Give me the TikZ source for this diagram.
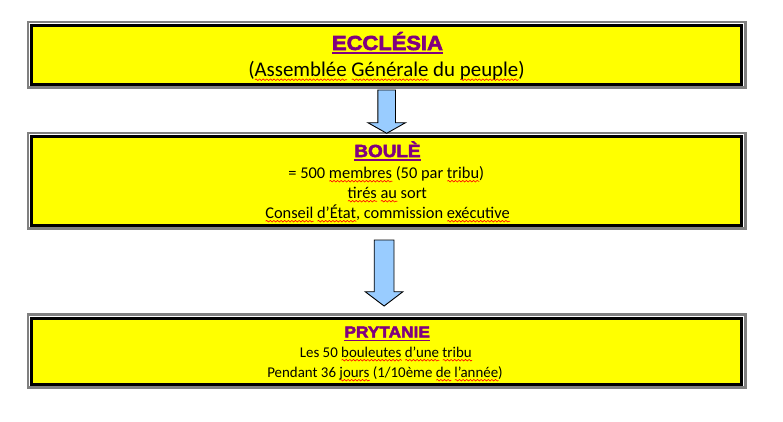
\documentclass[tikz,border=0pt]{standalone}
\usepackage{fontspec}
\setmainfont{Carlito}
\newfontfamily\titlefont[FakeStretch=1.08,FakeBold=3]{Liberation Sans Bold}
\usetikzlibrary{calc,decorations.pathmorphing}
\definecolor{ttl}{RGB}{128,0,128}
\definecolor{arrowblue}{RGB}{153,204,255}
\definecolor{frame}{RGB}{128,128,128}
\definecolor{boxyellow}{RGB}{255,255,0}
\newsavebox\sqbox
\newcommand\sq[1]{\sbox\sqbox{#1}\rlap{\tikz[baseline=0pt,x=1pt,y=1pt]\draw[red,line width=0.6pt,decorate,decoration={snake,amplitude=0.8pt,segment length=3.6pt}] (0,-3.2) -- (\the\wd\sqbox,-3.2);}\usebox\sqbox}
\newcommand\ttlu[1]{\sbox\sqbox{#1}\rlap{\rule[-3.8pt]{\wd\sqbox}{1.8pt}}\usebox\sqbox}
\tikzset{
  box/.style={draw=black, line width=3pt, fill=boxyellow, minimum width=710pt, outer sep=0pt, inner sep=0pt},
  outerframe/.style={draw=frame, line width=2.6pt},
  barrow/.style={draw=black, line width=0.9pt, fill=arrowblue, line join=miter},
  ttltext/.style={anchor=base, text=ttl},
  bodytext/.style={anchor=base, text=black}
}
\begin{document}
\begin{tikzpicture}[x=1pt, y=-1pt]
\useasboundingbox (0,0) rectangle (783,421);
% boxes
\node[box, minimum height=58.3pt] (ecc) at (386.7,54.85) {};
\node[box, minimum height=88.3pt] (boule) at (386.7,180.85) {};
\node[box, minimum height=66pt] (pryt) at (386.7,351) {};
\foreach \b in {ecc,boule,pryt}{
  \draw[outerframe] ([xshift=-3.7pt,yshift=3.7pt]\b.north west) rectangle ([xshift=3.7pt,yshift=-3.7pt]\b.south east);
}
% arrows
\draw[barrow] ($(ecc.south)+(-8.8,6)$) -- ($(ecc.south)+(8.8,6)$)
  -- ($(boule.north)+(8.8,-14)$) -- ($(boule.north)+(18.8,-14)$)
  -- ($(boule.north)+(0,-3.4)$)
  -- ($(boule.north)+(-18.8,-14)$) -- ($(boule.north)+(-8.8,-14)$) -- cycle;
\draw[barrow] ($(boule.south)+(-12.5,15)$) -- ($(boule.south)+(7.3,15)$)
  -- ($(pryt.north)+(7.3,-26.3)$) -- ($(pryt.north)+(16.2,-26.3)$)
  -- ($(pryt.north)+(-2.6,-12)$)
  -- ($(pryt.north)+(-21.5,-26.3)$) -- ($(pryt.north)+(-12.5,-26.3)$) -- cycle;
% texts
\node[ttltext, font=\titlefont\fontsize{20.3}{24}\selectfont] (t1) at (387.5,50) {\ttlu{ECCLÉSIA}};
\node[bodytext, font=\fontsize{20.9}{24}\selectfont] (t2) at (386.5,76.5) {(\sq{Assemblée} \sq{Générale} du \sq{peuple})};
\node[ttltext, font=\titlefont\fontsize{17.5}{21}\selectfont] (t3) at (387.5,157) {\ttlu{BOULÈ}};
\node[bodytext, font=\fontsize{16.4}{18}\selectfont] (t4) at (386.3,178) {= 500 \sq{membres} (50 par \sq{tribu})};
\node[bodytext, font=\fontsize{16.4}{18}\selectfont] (t5) at (387.3,198) {\sq{tirés} \sq{au} sort};
\node[bodytext, font=\fontsize{16.4}{18}\selectfont] (t6) at (387.5,218) {\sq{Conseil} \sq{d’État}, commission \sq{exécutive}};
\node[ttltext, font=\titlefont\fontsize{16}{19}\selectfont] (t7) at (387.2,337.5) {\ttlu{PRYTANIE}};
\node[bodytext, font=\fontsize{14.9}{17}\selectfont] (t8) at (385.8,357) {Les 50 \sq{bouleutes} \sq{d’une} \sq{tribu}};
\node[bodytext, font=\fontsize{14.9}{17}\selectfont] (t9) at (385,377) {Pendant 36 \sq{jours} (1/10ème \sq{de} \sq{l’année})};
\end{tikzpicture}
\end{document}
